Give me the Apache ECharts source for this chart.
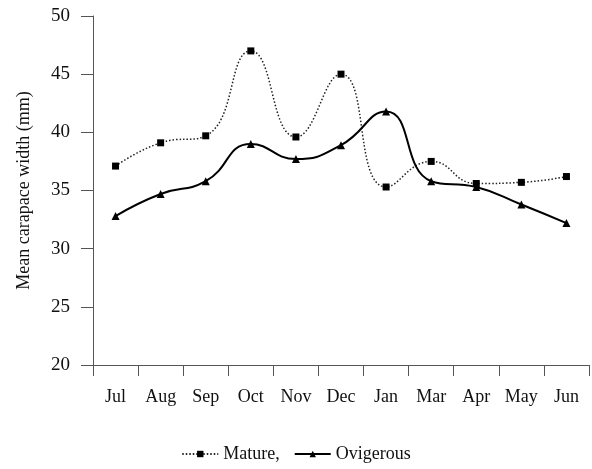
<!DOCTYPE html>
<html>
<head>
<meta charset="utf-8">
<script src="https://cdn.jsdelivr.net/npm/echarts@6/dist/echarts.min.js"></script>
<style>
  html, body { margin: 0; padding: 0; background: #fff; }
  #chart { width: 592px; height: 469px; }
</style>
</head>
<body>
<div id="chart"></div>
<script>
// months (Feb is missing in the source figure)
var months = ['Jul', 'Aug', 'Sep', 'Oct', 'Nov', 'Dec', 'Jan', 'Mar', 'Apr', 'May', 'Jun'];
var mature = [37.1, 39.1, 39.7, 47.0, 39.6, 45.0, 35.3, 37.5, 35.6, 35.7, 36.2];
var ovigerous = [32.8, 34.7, 35.8, 39.0, 37.7, 38.9, 41.8, 35.8, 35.3, 33.8, 32.2];
var yTicks = { min: 20, max: 50, step: 5 };

var font = '"Liberation Serif", "Times New Roman", serif';
var myChart = echarts.init(document.getElementById('chart'));

var option = {
    animation: false,
    textStyle: { fontFamily: font },
    grid: { left: 93, right: 3, top: 16, bottom: 104 },
    legend: {
        bottom: 1,
        left: 'center',
        itemWidth: 36,
        itemHeight: 8,
        itemGap: 14,
        textStyle: { fontFamily: font, fontSize: 18, color: '#111' },
        data: ['Mature,', 'Ovigerous']
    },
    xAxis: {
        type: 'category',
        data: months,
        boundaryGap: true,
        axisLine: { lineStyle: { color: '#555', width: 1 } },
        axisTick: { show: true, length: 11, lineStyle: { color: '#555' } },
        axisLabel: { fontFamily: font, fontSize: 18, color: '#111', margin: 23, interval: 0 }
    },
    yAxis: {
        type: 'value',
        min: yTicks.min,
        max: yTicks.max,
        interval: yTicks.step,
        name: 'Mean carapace width (mm)',
        nameLocation: 'middle',
        nameGap: 60,
        nameTextStyle: { fontFamily: font, fontSize: 18, color: '#111' },
        splitLine: { show: false },
        axisLine: { show: true, lineStyle: { color: '#555', width: 1 } },
        axisTick: { show: true, length: 12, lineStyle: { color: '#555' } },
        axisLabel: { fontFamily: font, fontSize: 19, color: '#111', margin: 23 }
    },
    series: [
        {
            name: 'Mature,',
            type: 'line',
            smooth: 0.5,
            data: mature,
            symbol: 'rect',
            symbolSize: 7,
            itemStyle: { color: '#000' },
            lineStyle: { color: '#222', width: 1.5, type: [1.5, 2] }
        },
        {
            name: 'Ovigerous',
            type: 'line',
            smooth: 0.5,
            data: ovigerous,
            symbol: 'triangle',
            symbolSize: 8,
            itemStyle: { color: '#000' },
            lineStyle: { color: '#000', width: 2 }
        }
    ]
};

myChart.setOption(option);
</script>
</body>
</html>
